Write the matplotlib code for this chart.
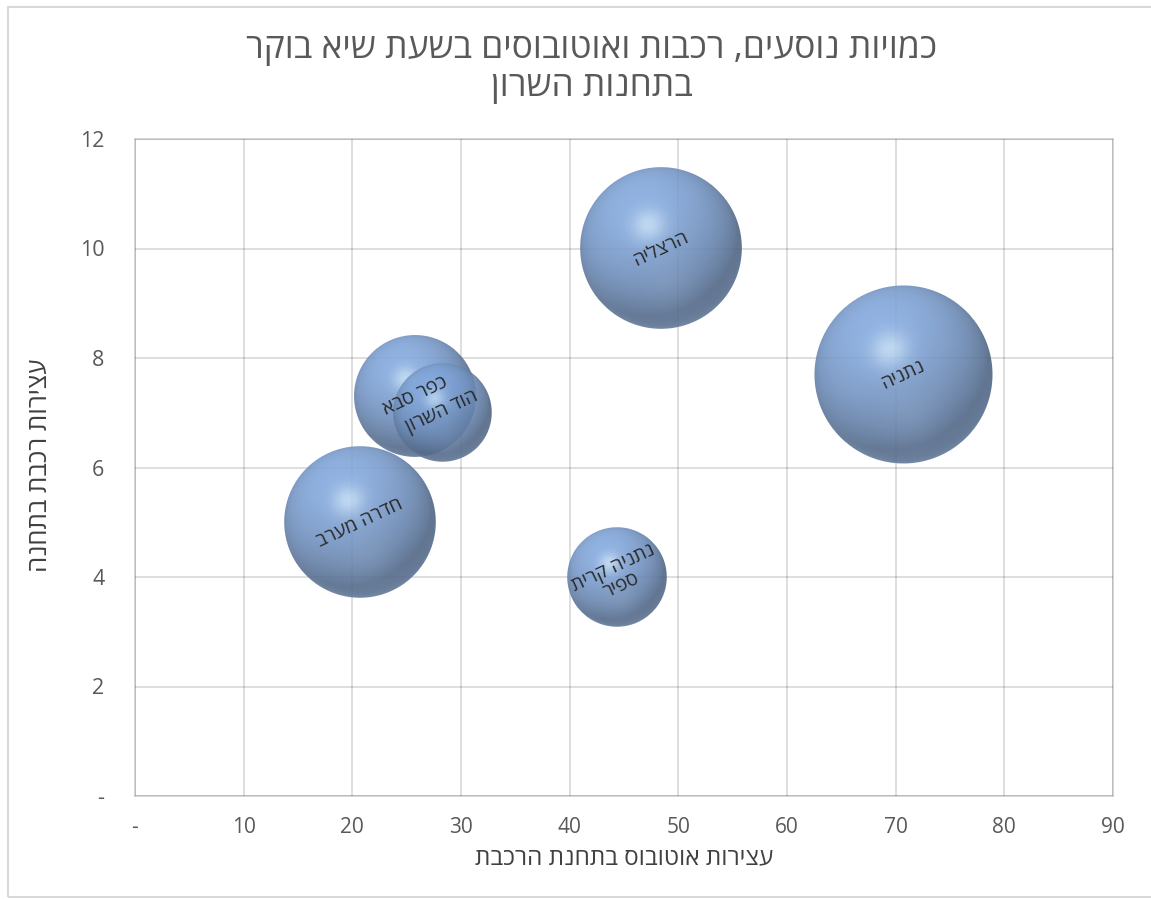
""" Bubble chart: passengers, trains and buses at Sharon railway stations"""

import numpy as np
import matplotlib
matplotlib.use('Agg')
from matplotlib import pyplot as plt
from matplotlib.offsetbox import OffsetImage, AnnotationBbox
from matplotlib.patches import Rectangle

# Data (logical Hebrew order)
stations = ['הרצליה', 'נתניה', 'כפר סבא', 'הוד השרון', 'חדרה מערב', 'נתניה קרית\nספיר']
bus_stops = [48.4, 70.7, 25.8, 28.3, 20.7, 44.4]
train_stops = [10.0, 7.7, 7.3, 7.0, 5.0, 4.0]
passengers = [13200, 16000, 7500, 4900, 11600, 5000]

x_ticks = [0, 10, 20, 30, 40, 50, 60, 70, 80, 90]
x_ticklabels = ['-', '10', '20', '30', '40', '50', '60', '70', '80', '90']
y_ticks = [0, 2, 4, 6, 8, 10, 12]
y_ticklabels = ['-', '2', '4', '6', '8', '10', '12']

title = 'כמויות נוסעים, רכבות ואוטובוסים בשעת שיא בוקר\nבתחנות השרון'
x_label = 'עצירות אוטובוס בתחנת הרכבת'
y_label = 'עצירות רכבת בתחנה'

FONT = ['Open Sans', 'DejaVu Sans']
GRAY = '#595959'


def rtl(s):
    """ Visual order for right-to-left text (matplotlib has no bidi) """
    return '\n'.join(line[::-1] for line in s.split('\n'))


def sphere(r):
    """ RGBA image of a shaded sphere with radius r pixels """
    n = int(2 * r) + 3
    c = (n - 1) / 2.
    yy, xx = np.mgrid[0:n, 0:n]
    u = (xx - c) / r
    v = (c - yy) / r
    d2 = u * u + v * v
    d = np.sqrt(d2)
    nz = np.sqrt(np.clip(1 - d2, 0, 1))
    L = np.array([-0.3, 0.55, 0.8])
    L /= np.linalg.norm(L)
    diff = np.clip(u * L[0] + v * L[1] + nz * L[2], 0, 1)
    H = L + np.array([0, 0, 1.])
    H /= np.linalg.norm(H)
    spec = np.clip(u * H[0] + v * H[1] + nz * H[2], 0, 1) ** 45
    base = np.array([0.50, 0.64, 0.84])
    rgb = base * (0.62 + 0.42 * diff)[..., None]
    rgb += (np.array([0.86, 0.95, 1.0]) - rgb) * (0.6 * spec)[..., None]
    # soft reflection at the bottom
    glow = np.exp(-((u - 0.1) ** 2 + (v + 0.5) ** 2) / 0.12) * 0.10
    rim = np.clip(-v, 0, 1) * (1 - nz) ** 3 * 0.3
    rgb += (np.array([0.72, 0.82, 0.95]) - rgb) * (glow + rim)[..., None]
    rgb = np.clip(rgb, 0, 1)
    alpha = 0.9 * np.clip((1 - d) * r + 0.5, 0, 1)
    return np.dstack([rgb, alpha])


fig = plt.figure(figsize=(11.51, 8.99), dpi=100)
W, Hh = 1151., 899.
ax = fig.add_axes([135 / W, 1 - 796 / Hh, (1113 - 135) / W, (796 - 139) / Hh])
ax.set_xlim(0, 90)
ax.set_ylim(0, 12)

ax.set_xticks(x_ticks)
ax.set_xticklabels(x_ticklabels)
ax.set_yticks(y_ticks)
ax.set_yticklabels(y_ticklabels)
ax.tick_params(axis='x', length=0, pad=15, labelsize=15, labelcolor=GRAY)
ax.tick_params(axis='y', length=0, pad=22, labelsize=15.5, labelcolor=GRAY)
for lbl in ax.get_xticklabels() + ax.get_yticklabels():
    lbl.set_family(FONT)
for sp in ax.spines.values():
    sp.set_color('#d0d0d0')
    sp.set_linewidth(1.2)

# gridlines on top with low alpha so they show faintly through the bubbles
ax.grid(True, color='#3c3c46', alpha=0.2, linewidth=1.2, zorder=5)
ax.set_axisbelow(False)

# Bubbles: radius in pixels proportional to sqrt(size)
r_max = 89.
for xv, yv, pv in zip(bus_stops, train_stops, passengers):
    r = r_max * np.sqrt(pv / max(passengers))
    img = OffsetImage(sphere(r), zoom=1, dpi_cor=False)
    ab = AnnotationBbox(img, (xv, yv), xycoords='data', frameon=False, pad=0,
                        box_alignment=(0.5, 0.5), zorder=3)
    ax.add_artist(ab)

# Labels
for xv, yv, name in zip(bus_stops, train_stops, stations):
    ax.text(xv, yv, rtl(name), rotation=25, rotation_mode='anchor',
            ha='center', va='center', multialignment='center', linespacing=1.0,
            fontsize=14, color='#2a2a2a', family=FONT, zorder=10)

# Titles
fig.text(592 / W, 1 - 68 / Hh, rtl(title), ha='center', va='center',
         fontsize=25.5, color=GRAY, family=FONT, linespacing=1.12)
fig.text(624 / W, 1 - 858 / Hh, rtl(x_label), ha='center', va='center',
         fontsize=17.5, color='#404040', family=FONT)
fig.text(40 / W, 1 - 465 / Hh, rtl(y_label), ha='center', va='center', rotation=90,
         fontsize=18.5, color='#404040', family=FONT)

# Chart area border
fig.patches.append(Rectangle((8 / W, 2 / Hh), 1.2, 1 - 9 / Hh, transform=fig.transFigure,
                             fill=False, edgecolor='#d9d9d9', linewidth=1.5))

fig.savefig('out.png', dpi=100)
